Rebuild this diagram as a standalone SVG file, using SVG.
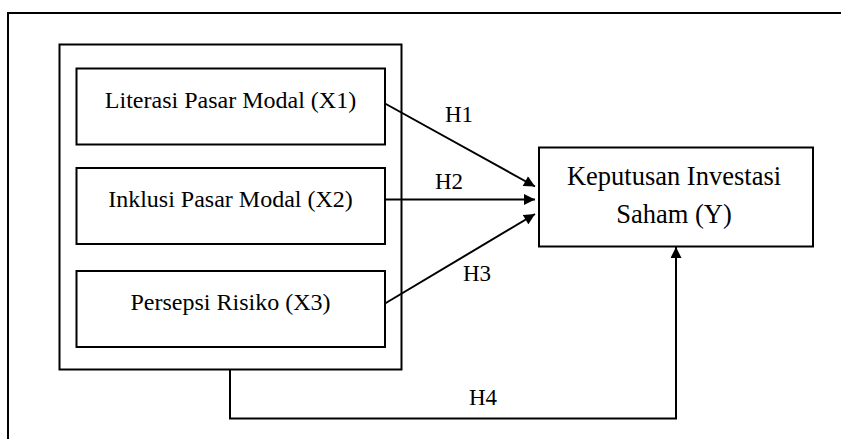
<svg xmlns="http://www.w3.org/2000/svg" width="841" height="439" viewBox="0 0 841 439">
<defs>
<style>
.box{fill:#fff;stroke:#000;stroke-width:2}
.frame{fill:none;stroke:#000;stroke-width:2}
.ln{fill:none;stroke:#000;stroke-width:2}
text{font-family:"Liberation Serif","Times New Roman",serif;font-size:24px;fill:#000;text-anchor:middle}
.big{font-size:26.5px}
.lbl{font-size:23px}
</style>
<marker id="ah" viewBox="0 0 10 10" refX="10" refY="5" markerWidth="12" markerHeight="11" markerUnits="userSpaceOnUse" orient="auto">
<path d="M0,0 L10,5 L0,10 Z" fill="#000"/>
</marker>
</defs>
<rect width="841" height="439" fill="#fff"/>
<path class="frame" d="M8,439 V13 H841"/>
<g id="group">
<rect class="box" x="59.5" y="44.5" width="342" height="325"/>
</g>
<g id="x1">
<rect class="box" x="76.5" y="68.5" width="308.5" height="76"/>
<text x="230.5" y="108">Literasi Pasar Modal (X1)</text>
</g>
<g id="x2">
<rect class="box" x="76.5" y="168" width="308.5" height="76"/>
<text x="230.5" y="207">Inklusi Pasar Modal (X2)</text>
</g>
<g id="x3">
<rect class="box" x="76.5" y="271" width="308.5" height="76"/>
<text x="230.5" y="310">Persepsi Risiko (X3)</text>
</g>
<g id="y">
<rect class="box" x="539" y="147.5" width="274" height="99"/>
<text class="big" x="674" y="185">Keputusan Investasi</text>
<text class="big" x="674" y="223">Saham (Y)</text>
</g>
<g id="connectors">
<path class="ln" d="M385,103.5 L535,186.5" marker-end="url(#ah)"/>
<path class="ln" d="M385,199.5 L535,199.5" marker-end="url(#ah)"/>
<path class="ln" d="M385,303.5 L535,214" marker-end="url(#ah)"/>
<path class="ln" d="M230,369.5 V418.5 H676 V247" marker-end="url(#ah)"/>
<text class="lbl" x="459" y="122">H1</text>
<text class="lbl" x="449" y="189">H2</text>
<text class="lbl" x="477" y="281">H3</text>
<text class="lbl" x="483" y="405">H4</text>
</g>
</svg>
